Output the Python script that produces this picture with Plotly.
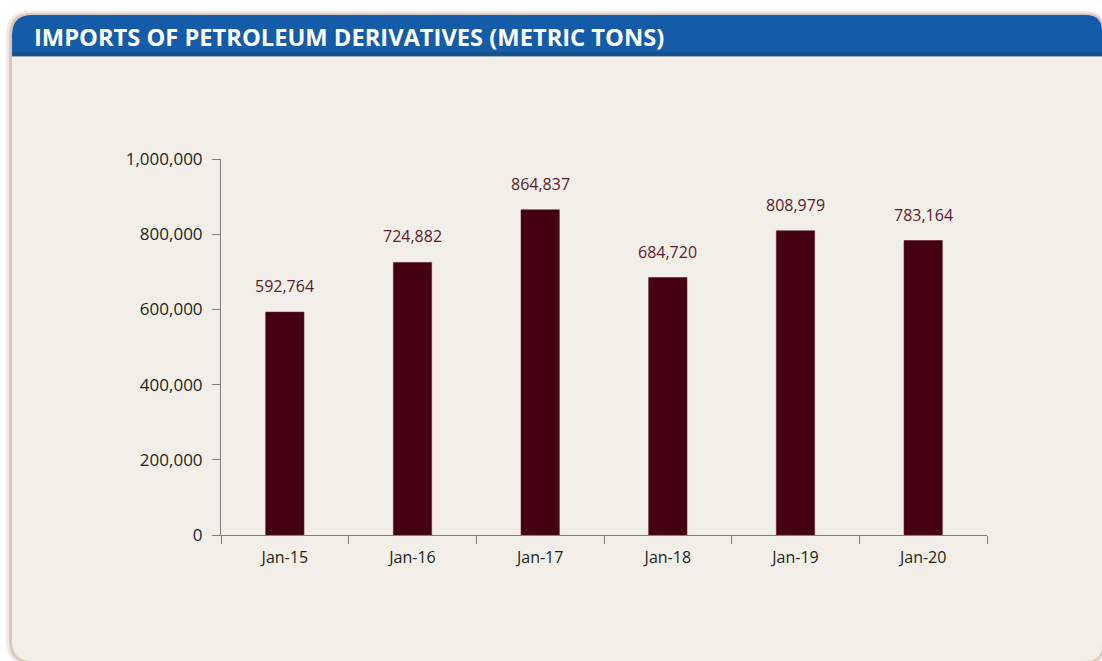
import plotly.graph_objects as go

categories = ["Jan-15", "Jan-16", "Jan-17", "Jan-18", "Jan-19", "Jan-20"]
values = [592764, 724882, 864837, 684720, 808979, 783164]
title_text = "IMPORTS OF PETROLEUM DERIVATIVES (METRIC TONS)"

W, H = 1102, 661
ML, MR, MT, MB = 221, W - 987, 159, H - 535
PW, PH = W - ML - MR, H - MT - MB


def px(x):
    return (x - ML) / PW


def py(y):
    return (H - MB - y) / PH


def rrect(x0, y0, x1, y1, rtl, rtr, rbr, rbl):
    # rounded rectangle path in paper coords (pixel input, y down)
    pts = [
        f"M{px(x0 + rtl)},{py(y0)}",
        f"L{px(x1 - rtr)},{py(y0)}",
        f"Q{px(x1)},{py(y0)} {px(x1)},{py(y0 + rtr)}",
        f"L{px(x1)},{py(y1 - rbr)}",
        f"Q{px(x1)},{py(y1)} {px(x1 - rbr)},{py(y1)}",
        f"L{px(x0 + rbl)},{py(y1)}",
        f"Q{px(x0)},{py(y1)} {px(x0)},{py(y1 - rbl)}",
        f"L{px(x0)},{py(y0 + rtl)}",
        f"Q{px(x0)},{py(y0)} {px(x0 + rtl)},{py(y0)}",
        "Z",
    ]
    return " ".join(pts)


shapes = [
    # soft shadow
    dict(type="path", xref="paper", yref="paper", layer="below",
         path=rrect(6, 11, 1106, 665, 24, 20, 20, 24),
         fillcolor="rgba(200,170,155,0.25)", line=dict(width=0)),
    dict(type="path", xref="paper", yref="paper", layer="below",
         path=rrect(9, 13, 1104, 663, 22, 18, 18, 22),
         fillcolor="rgba(175,135,115,0.35)", line=dict(width=0)),
    # card
    dict(type="path", xref="paper", yref="paper", layer="below",
         path=rrect(12, 15, 1102, 661, 20, 16, 16, 20),
         fillcolor="#F2EFE9", line=dict(width=0)),
    # header
    dict(type="path", xref="paper", yref="paper", layer="below",
         path=rrect(12, 15, 1102, 56, 20, 16, 0, 0),
         fillcolor="#145BA8", line=dict(width=0)),
    dict(type="rect", xref="paper", yref="paper", layer="below",
         x0=px(12), x1=px(1102), y0=py(56), y1=py(52),
         fillcolor="#13548F", line=dict(width=0)),
    dict(type="line", xref="paper", yref="paper", layer="below",
         x0=px(12), x1=px(1102), y0=py(56.5), y1=py(56.5),
         line=dict(color="#9FB0C0", width=1)),
]

fig = go.Figure()
fig.add_trace(go.Bar(
    x=categories, y=values, width=0.3,
    marker=dict(color="#440010", line=dict(color="#5E1A2A", width=0.6)),
    hoverinfo="skip",
))

annotations = [
    dict(x=c, y=v, xref="x", yref="y", text=f"{v:,}", showarrow=False,
         yanchor="bottom", yshift=13,
         font=dict(family="Open Sans", size=16, color="#5C1A2B"))
    for c, v in zip(categories, values)
]
annotations.append(dict(
    x=px(32), y=py(37), xref="paper", yref="paper", xanchor="left", yanchor="middle",
    text=f"<b>{title_text}</b>", showarrow=False,
    font=dict(family="Open Sans", size=23.7, color="white")))

fig.update_layout(
    width=W, height=H,
    margin=dict(l=ML, r=MR, t=MT, b=MB, pad=0),
    paper_bgcolor="white", plot_bgcolor="rgba(0,0,0,0)",
    showlegend=False, bargap=0.7,
    shapes=shapes, annotations=annotations,
    font=dict(family="Open Sans", size=16, color="#231F20"),
)
fig.update_xaxes(
    type="category", range=[-0.5, 5.5], showgrid=False, zeroline=False,
    showline=True, linecolor="#7F7F7F", linewidth=1,
    ticks="outside", tickson="boundaries", ticklen=8, tickcolor="#7F7F7F",
    ticklabelstandoff=8,
    tickfont=dict(family="Open Sans", size=16, color="#231F20"),
)
fig.update_yaxes(
    range=[0, 1000000], dtick=200000, showgrid=False, zeroline=False,
    showline=True, linecolor="#7F7F7F", linewidth=1,
    ticks="outside", ticklen=8, tickcolor="#7F7F7F", tickformat=",d",
    ticklabelstandoff=6,
    tickfont=dict(family="Open Sans", size=17, color="#231F20"),
)

fig.write_html(
    "out.html",
    config={"displayModeBar": False},
    post_script="document.body.style.margin='0';document.body.style.padding='0';",
)
